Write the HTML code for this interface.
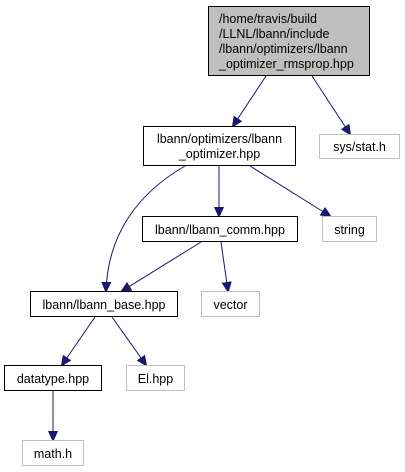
<!DOCTYPE html>
<html><head><style>body{margin:0;background:#fff}svg{display:block}text{font-family:"Liberation Sans",Arial,sans-serif;font-size:12.5px;fill:#000}</style></head><body>
<svg width="405" height="472" viewBox="0 0 405 472" xmlns="http://www.w3.org/2000/svg">
<defs><marker id="a" markerWidth="10" markerHeight="10" refX="9" refY="5" orient="auto" markerUnits="userSpaceOnUse"><path d="M0,0.5 L10,5 L0,9.5 z" fill="#191970" stroke="#191970"/></marker></defs>
<g fill="none" stroke="#191970" stroke-width="1" marker-end="url(#a)">
<path d="M266,76 L233,126"/>
<path d="M312,76 L350,134"/>
<path d="M219,166 L219,216"/>
<path d="M250,166 L330,216"/>
<path d="M185,166 C140,192 108,232 106,291"/>
<path d="M201,242 L122,291"/>
<path d="M221,242 L228,291"/>
<path d="M95,317 L62,365"/>
<path d="M112,317 L146,365"/>
<path d="M53,391 L53,440"/>
</g>
<g stroke-width="1">
<rect x="208.5" y="6.5" width="161" height="69" fill="#bfbfbf" stroke="#000"/>
<rect x="143.5" y="126.5" width="152" height="39" fill="#fff" stroke="#000"/>
<rect x="319.5" y="134.5" width="80" height="24" fill="#fff" stroke="#bfbfbf"/>
<rect x="142.5" y="216.5" width="155" height="25" fill="#fff" stroke="#000"/>
<rect x="322.5" y="216.5" width="54" height="25" fill="#fff" stroke="#bfbfbf"/>
<rect x="30.5" y="291.5" width="147" height="25" fill="#fff" stroke="#000"/>
<rect x="201.5" y="291.5" width="58" height="25" fill="#fff" stroke="#bfbfbf"/>
<rect x="4.5" y="365.5" width="97" height="25" fill="#fff" stroke="#000"/>
<rect x="126.5" y="365.5" width="58" height="25" fill="#fff" stroke="#bfbfbf"/>
<rect x="22.5" y="440.5" width="61" height="25" fill="#fff" stroke="#bfbfbf"/>
</g>
<text x="219" y="23">/home/travis/build</text>
<text x="219" y="38">/LLNL/lbann/include</text>
<text x="219" y="53">/lbann/optimizers/lbann</text>
<text x="219" y="68">_optimizer_rmsprop.hpp</text>
<g text-anchor="middle">
<text x="219.5" y="143">lbann/optimizers/lbann</text>
<text x="219.5" y="158">_optimizer.hpp</text>
<text x="359.5" y="151">sys/stat.h</text>
<text x="220" y="234">lbann/lbann_comm.hpp</text>
<text x="349.5" y="234">string</text>
<text x="104" y="309">lbann/lbann_base.hpp</text>
<text x="230.5" y="309">vector</text>
<text x="53" y="383">datatype.hpp</text>
<text x="155.5" y="383">El.hpp</text>
<text x="53" y="458">math.h</text>
</g>
</svg>
</body></html>
